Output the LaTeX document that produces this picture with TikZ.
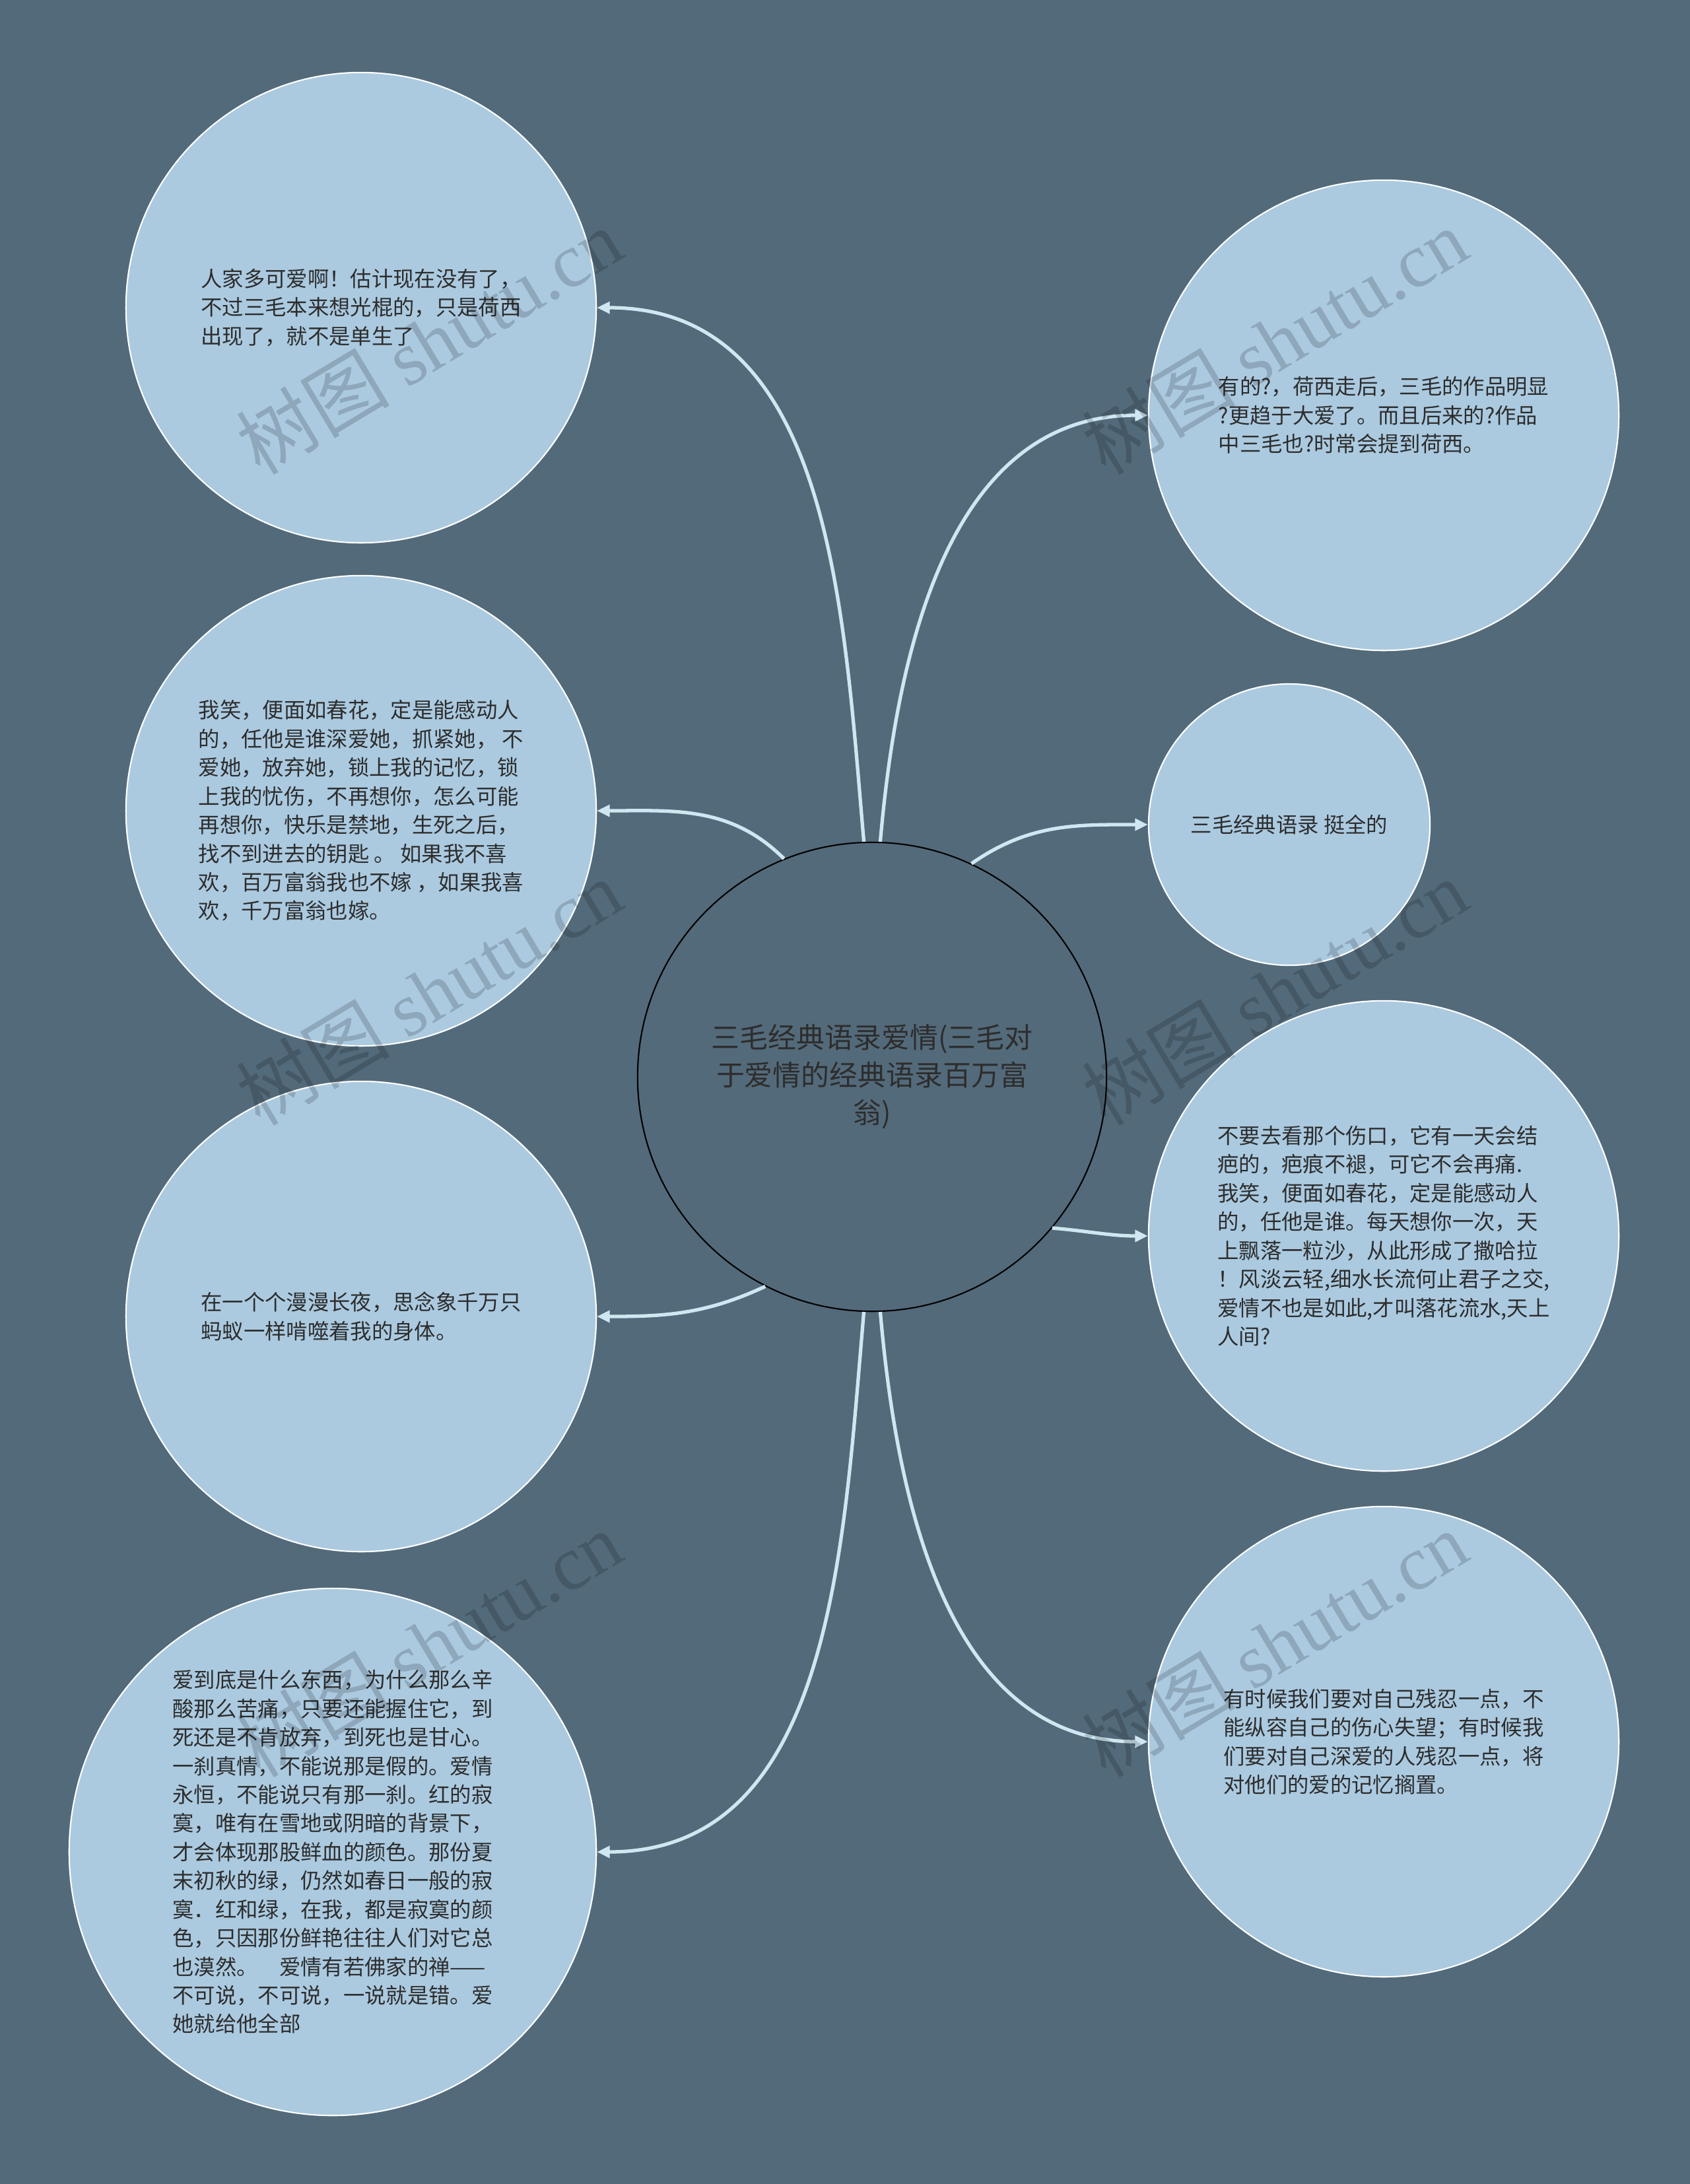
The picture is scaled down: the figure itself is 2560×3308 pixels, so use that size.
\documentclass[tikz,border=0pt]{standalone}
\usepackage{fontspec}
\setmainfont{Noto Sans CJK SC}
\newfontfamily\wmfont{Liberation Serif}
\usetikzlibrary{arrows.meta,positioning}
\definecolor{bgcol}{RGB}{83,106,122}
\definecolor{leafcol}{RGB}{171,202,224}
\definecolor{linkcol}{RGB}{206,231,241}
\definecolor{txtcol}{RGB}{45,45,45}

\begin{document}
\begin{tikzpicture}[x=0.01cm, y=0.01cm,
leaf/.style={circle, draw=white, line width=0.6pt, fill=leafcol, inner sep=0pt, text=txtcol, align=left, font=\fontsize{9.2pt}{12.35pt}\selectfont},
root/.style={circle, draw=black, line width=0.6pt, fill=bgcol, inner sep=0pt, minimum size=7.1cm, text=txtcol, align=center, font=\fontsize{12.2pt}{16.2pt}\selectfont},
link/.style={draw=linkcol, line width=1.5pt, -{Triangle[length=5.5pt,width=5pt]}},
wmark/.style={rotate=31, text=black, opacity=0.17, font=\fontsize{33pt}{38pt}\selectfont}]

\fill[bgcol] (0,0) rectangle (2560,-3308);
\useasboundingbox (0,0) rectangle (2560,-3308);

% centre
\node[root] (0) at (1321,-1631) {三毛经典语录爱情(三毛对\\于爱情的经典语录百万富\\翁)};

% left side
\node[leaf, minimum size=7.12cm] (1) at (547,-466) {人家多可爱啊！估计现在没有了，\\不过三毛本来想光棍的，只是荷西\\出现了，就不是单生了};
\node[leaf, minimum size=7.12cm] (2) at (547,-1228) {我笑，便面如春花，定是能感动人\\的，任他是谁深爱她，抓紧她， 不\\爱她，放弃她，锁上我的记忆，锁\\上我的忧伤，不再想你，怎么可能\\再想你，快乐是禁地，生死之后，\\找不到进去的钥匙 。 如果我不喜\\欢，百万富翁我也不嫁 ，如果我喜\\欢，千万富翁也嫁。};
\node[leaf, minimum size=7.12cm] (3) at (547,-1994) {在一个个漫漫长夜，思念象千万只\\蚂蚁一样啃噬着我的身体。};
\node[leaf, minimum size=7.98cm] (4) at (504,-2805) {爱到底是什么东西，为什么那么辛\\酸那么苦痛，只要还能握住它，到\\死还是不肯放弃，到死也是甘心。\\一刹真情，不能说那是假的。爱情\\永恒，不能说只有那一刹。红的寂\\寞，唯有在雪地或阴暗的背景下，\\才会体现那股鲜血的颜色。那份夏\\末初秋的绿，仍然如春日一般的寂\\寞．红和绿，在我，都是寂寞的颜\\色，只因那份鲜艳往往人们对它总\\也漠然。\quad 爱情有若佛家的禅——\\不可说，不可说，一说就是错。爱\\她就给他全部};

% right side
\node[leaf, minimum size=7.12cm] (5) at (2096,-629) {有的?，荷西走后，三毛的作品明显\\?更趋于大爱了。而且后来的?作品\\中三毛也?时常会提到荷西。};
\node[leaf, minimum size=4.26cm] (6) at (1953,-1249) {三毛经典语录 挺全的};
\node[leaf, minimum size=7.12cm] (7) at (2096,-1872) {不要去看那个伤口，它有一天会结\\疤的，疤痕不褪，可它不会再痛.\\我笑，便面如春花，定是能感动人\\的，任他是谁。每天想你一次，天\\上飘落一粒沙，从此形成了撒哈拉\\！风淡云轻,细水长流何止君子之交,\\爱情不也是如此,才叫落花流水,天上\\人间?};
\node[leaf, minimum size=7.12cm] (8) at (2096,-2638) {有时候我们要对自己残忍一点，不\\能纵容自己的伤心失望；有时候我\\们要对自己深爱的人残忍一点，将\\对他们的爱的记忆搁置。};

\draw[link] (0.92) to[out=95, in=0] (1.east);
\draw[link] (0.112) to[out=135, in=0] (2.east);
\draw[link] (0.243) to[out=205, in=0] (3.east);
\draw[link] (0.268) to[out=265, in=0] (4.east);
\draw[link] (0.88) to[out=85, in=180] (5.west);
\draw[link] (0.65) to[out=35, in=180] (6.west);
\draw[link] (0.320) to[out=-5, in=180] (7.west);
\draw[link] (0.272) to[out=275, in=180] (8.west);

% watermarks
\node[wmark] (w1) at (650,-517) {树图 {\wmfont shutu.cn}};
\node[wmark] (w2) at (1931,-517) {树图 {\wmfont shutu.cn}};
\node[wmark] (w3) at (650,-1503) {树图 {\wmfont shutu.cn}};
\node[wmark] (w4) at (1931,-1503) {树图 {\wmfont shutu.cn}};
\node[wmark] (w5) at (650,-2490) {树图 {\wmfont shutu.cn}};
\node[wmark] (w6) at (1931,-2490) {树图 {\wmfont shutu.cn}};

\end{tikzpicture}
\end{document}
